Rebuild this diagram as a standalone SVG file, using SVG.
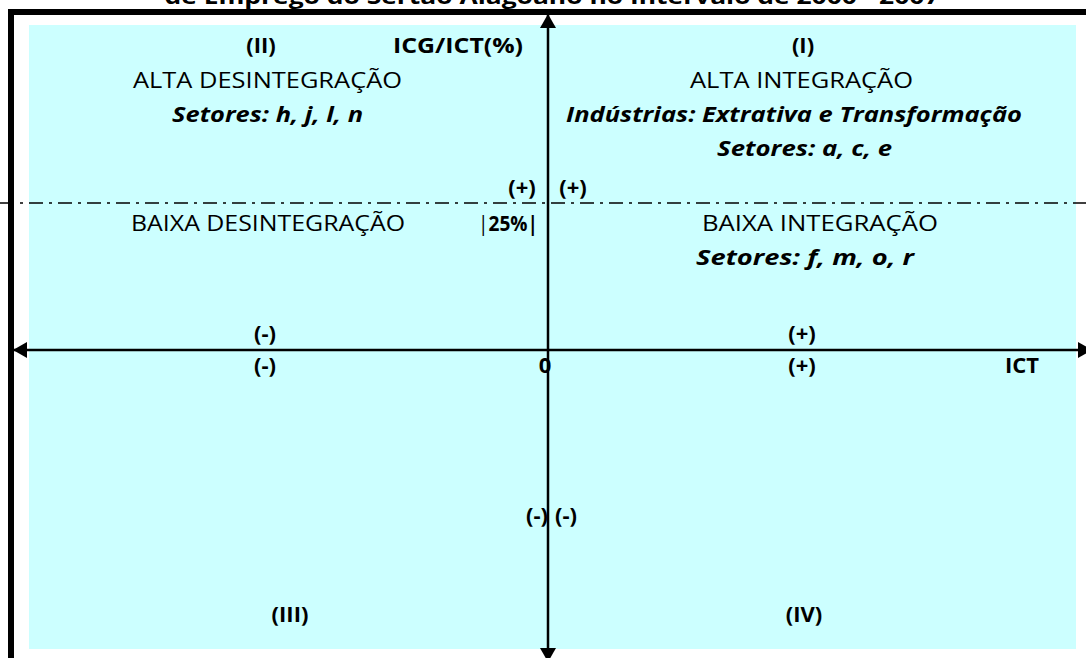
<svg xmlns="http://www.w3.org/2000/svg" width="1086" height="658" viewBox="0 0 1086 658">
  <style>
    text { font-family: "Open Sans", "Liberation Sans", sans-serif; fill: #000; }
    .tag { font-size: 22px; font-weight: bold; }
    .reg { font-size: 22px; }
    .sec { font-size: 21px; font-weight: bold; font-style: italic; }
    .axis { stroke: #000; stroke-width: 2.5; fill: none; }
  </style>
  <defs>
    <marker id="arrow" viewBox="0 0 14 16" refX="14" refY="8" markerWidth="14" markerHeight="16" markerUnits="userSpaceOnUse" orient="auto-start-reverse">
      <path d="M0,0 L14,8 L0,16 Z" fill="#000"/>
    </marker>
  </defs>

  <rect width="1086" height="658" fill="#fff"/>

  <!-- title (runs off the top edge) -->
  <text class="tag" x="552" y="4" text-anchor="middle" textLength="775" lengthAdjust="spacingAndGlyphs">de Emprego do Sertão Alagoano no Intervalo de 2000 - 2007</text>

  <!-- frame and plotting area -->
  <path d="M11,664 V12 H1092" fill="none" stroke="#000" stroke-width="6"/>
  <rect x="29" y="25" width="1047" height="624" fill="#ccffff"/>

  <!-- 25% threshold line -->
  <line x1="0" y1="203" x2="1086" y2="203" stroke="#000" stroke-width="1.5" stroke-dasharray="14 6 3 6"/>

  <g id="connectors">
    <line id="axis-x" class="axis" x1="13" y1="350" x2="1092" y2="350" marker-start="url(#arrow)" marker-end="url(#arrow)"/>
    <line id="axis-y" class="axis" x1="548" y1="662" x2="548" y2="14" marker-start="url(#arrow)" marker-end="url(#arrow)"/>
  </g>

  <g id="quadrant-II">
    <text class="tag" x="261" y="53" text-anchor="middle">(II)</text>
    <text class="reg" x="133" y="88" textLength="269" lengthAdjust="spacingAndGlyphs">ALTA DESINTEGRAÇÃO</text>
    <text class="sec" x="172" y="122" textLength="191" lengthAdjust="spacingAndGlyphs">Setores: h, j, l, n</text>
  </g>

  <g id="axis-y-label">
    <text class="tag" x="393" y="53" textLength="130" lengthAdjust="spacingAndGlyphs">ICG/ICT(%)</text>
  </g>

  <g id="quadrant-I">
    <text class="tag" x="803" y="53" text-anchor="middle">(I)</text>
    <text class="reg" x="690" y="88" textLength="223" lengthAdjust="spacingAndGlyphs">ALTA INTEGRAÇÃO</text>
    <text class="sec" x="566" y="122" textLength="456" lengthAdjust="spacingAndGlyphs">Indústrias: Extrativa e Transformação</text>
    <text class="sec" x="717" y="156" textLength="175" lengthAdjust="spacingAndGlyphs">Setores: a, c, e</text>
  </g>

  <g id="threshold-signs">
    <text class="tag" x="522" y="195" text-anchor="middle">(+)</text>
    <text class="tag" x="573" y="195" text-anchor="middle">(+)</text>
    <text class="tag" x="478" y="231" textLength="60" lengthAdjust="spacingAndGlyphs"><tspan font-weight="normal">|</tspan>25%|</text>
  </g>

  <g id="low-disintegration">
    <text class="reg" x="131" y="231" textLength="274" lengthAdjust="spacingAndGlyphs">BAIXA DESINTEGRAÇÃO</text>
  </g>

  <g id="low-integration">
    <text class="reg" x="702" y="231" textLength="236" lengthAdjust="spacingAndGlyphs">BAIXA INTEGRAÇÃO</text>
    <text class="sec" x="696" y="265" textLength="218" lengthAdjust="spacingAndGlyphs">Setores: f, m, o, r</text>
  </g>

  <g id="axis-x-signs">
    <text class="tag" x="265" y="341" text-anchor="middle">(-)</text>
    <text class="tag" x="265" y="373" text-anchor="middle">(-)</text>
    <text class="tag" x="802" y="341" text-anchor="middle">(+)</text>
    <text class="tag" x="802" y="373" text-anchor="middle">(+)</text>
    <text class="tag" x="545" y="373" text-anchor="middle">0</text>
    <text class="tag" x="1022" y="373" text-anchor="middle">ICT</text>
  </g>

  <g id="axis-y-signs">
    <text class="tag" x="537" y="523" text-anchor="middle">(-)</text>
    <text class="tag" x="566" y="523" text-anchor="middle">(-)</text>
  </g>

  <g id="quadrant-III">
    <text class="tag" x="290" y="622" text-anchor="middle">(III)</text>
  </g>

  <g id="quadrant-IV">
    <text class="tag" x="804" y="622" text-anchor="middle">(IV)</text>
  </g>
</svg>
